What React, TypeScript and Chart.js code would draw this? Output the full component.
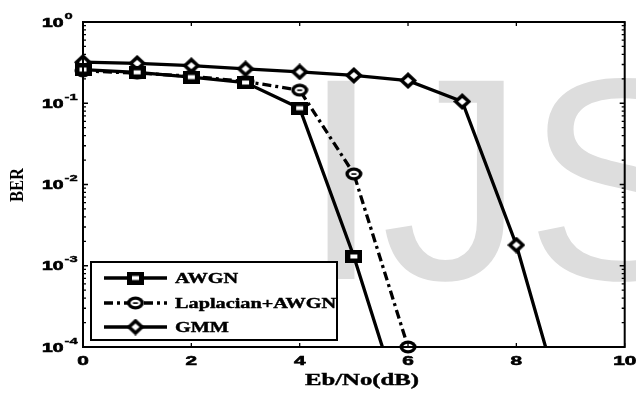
import React, { useEffect, useRef } from 'react';
import { Chart, registerables } from 'chart.js';

Chart.register(...registerables);

// ---- data ----
const ebnoAwgn = [0, 1, 2, 3, 4, 5, 6];
const berAwgn = [0.26, 0.24, 0.21, 0.18, 0.087, 0.0013, 0.00001];
const ebnoLap = [0, 1, 2, 3, 4, 5, 6];
const berLap = [0.25, 0.235, 0.215, 0.185, 0.145, 0.0135, 0.0001];
const ebnoGmm = [0, 1, 2, 3, 4, 5, 6, 7, 8, 9];
const berGmm = [0.32, 0.31, 0.29, 0.265, 0.243, 0.22, 0.19, 0.105, 0.0018, 0.0000085];

const seriesNames = ['AWGN', 'Laplacian+AWGN', 'GMM'];
const xTickValues = [0, 2, 4, 6, 8, 10];
const yDecadeExponents = [0, -1, -2, -3, -4];
const xTitle = 'Eb/No(dB)';
const yTitle = 'BER';
const watermarkText = 'IJS';

const SANS = '"Liberation Sans", Arial, sans-serif';
const SERIF = '"Liberation Serif", "Times New Roman", serif';

function makeMarker(kind: string): HTMLCanvasElement {
  const c = document.createElement('canvas');
  const ctx = c.getContext('2d')!;
  if (kind === 'square') {
    c.width = 17; c.height = 13;
    ctx.fillStyle = '#000';
    ctx.fillRect(0, 0, 17, 13);
    ctx.fillStyle = '#fff';
    ctx.fillRect(5, 4.5, 7, 4);
  } else if (kind === 'circle') {
    c.width = 18; c.height = 14;
    ctx.fillStyle = '#000';
    ctx.beginPath();
    ctx.ellipse(9, 7, 8.5, 6.5, 0, 0, Math.PI * 2);
    ctx.fill();
    ctx.fillStyle = '#fff';
    ctx.beginPath();
    ctx.ellipse(9, 7, 5, 3.2, 0, 0, Math.PI * 2);
    ctx.fill();
    ctx.fillStyle = '#000';
    ctx.fillRect(6.5, 6.3, 5, 1.6);
  } else {
    c.width = 18; c.height = 17;
    ctx.fillStyle = '#000';
    ctx.beginPath();
    ctx.moveTo(9, 0); ctx.lineTo(18, 8.5); ctx.lineTo(9, 17); ctx.lineTo(0, 8.5);
    ctx.closePath();
    ctx.fill();
    ctx.fillStyle = '#fff';
    ctx.beginPath();
    ctx.moveTo(9, 5); ctx.lineTo(13, 8.5); ctx.lineTo(9, 12); ctx.lineTo(5, 8.5);
    ctx.closePath();
    ctx.fill();
  }
  return c;
}

function stretchText(ctx: CanvasRenderingContext2D, text: string, x: number, y: number, font: string, sx: number, align: string, heavy = 0) {
  ctx.save();
  ctx.font = font;
  ctx.textAlign = 'left';
  ctx.textBaseline = 'alphabetic';
  const w = ctx.measureText(text).width * sx;
  const left = align === 'center' ? x - w / 2 : align === 'right' ? x - w : x;
  ctx.translate(left, y);
  ctx.scale(sx, 1);
  ctx.fillText(text, 0, 0);
  if (heavy > 0) {
    ctx.lineWidth = heavy;
    ctx.strokeStyle = '#000';
    ctx.strokeText(text, 0, 0);
  }
  ctx.restore();
  return w;
}

export default function App() {
  const ref = useRef<HTMLCanvasElement | null>(null);

  useEffect(() => {
    document.body.style.margin = '0';
    const markers = [makeMarker('square'), makeMarker('circle'), makeMarker('diamond')];
    const dashes = [[], [9, 4, 3, 4], []];

    const plugin = {
      id: 'matlabFrame',
      beforeDraw(chart: any) {
        const ctx = chart.ctx as CanvasRenderingContext2D;
        ctx.save();
        ctx.fillStyle = '#fff';
        ctx.fillRect(0, 0, chart.width, chart.height);
        ctx.fillStyle = '#dddddd';
        ctx.font = `288px ${SANS}`;
        ctx.textAlign = 'left';
        ctx.textBaseline = 'alphabetic';
        ctx.fillText(watermarkText, 301, 279);
        ctx.restore();
      },
      afterDatasetsDraw(chart: any) {
        const ctx = chart.ctx as CanvasRenderingContext2D;
        const xs = chart.scales.x;
        const ys = chart.scales.y;
        const a = chart.chartArea;
        ctx.save();
        ctx.strokeStyle = '#000';
        ctx.fillStyle = '#000';
        // frame
        ctx.lineWidth = 2;
        ctx.strokeRect(a.left, a.top, a.right - a.left, a.bottom - a.top);
        // x ticks
        ctx.lineWidth = 1.3;
        ctx.beginPath();
        for (const v of xTickValues) {
          const px = xs.getPixelForValue(v);
          ctx.moveTo(px, a.bottom); ctx.lineTo(px, a.bottom - 4);
          ctx.moveTo(px, a.top); ctx.lineTo(px, a.top + 4);
        }
        // y ticks (major + minor)
        for (const e of yDecadeExponents) {
          const py = ys.getPixelForValue(Math.pow(10, e));
          ctx.moveTo(a.left, py); ctx.lineTo(a.left + 5, py);
          ctx.moveTo(a.right, py); ctx.lineTo(a.right - 5, py);
          if (e < 0) {
            for (let m = 2; m <= 9; m++) {
              const pm = ys.getPixelForValue(m * Math.pow(10, e));
              ctx.moveTo(a.left, pm); ctx.lineTo(a.left + 3, pm);
              ctx.moveTo(a.right, pm); ctx.lineTo(a.right - 3, pm);
            }
          }
        }
        ctx.stroke();
        // x tick labels
        for (const v of xTickValues) {
          const px = xs.getPixelForValue(v);
          stretchText(ctx, String(v), px, a.bottom + 18, `bold 13px ${SANS}`, 1.6, 'center', 0.6);
        }
        // y tick labels 10^e
        for (const e of yDecadeExponents) {
          const py = ys.getPixelForValue(Math.pow(10, e));
          const w = stretchText(ctx, '10', 42, py + 4.5, `bold 12.5px ${SANS}`, 1.55, 'left', 0.6);
          stretchText(ctx, String(e), 42 + w + 1, py - 3.5, `bold 9.5px ${SANS}`, 1.55, 'left', 0.4);
        }
        // axis titles
        stretchText(ctx, xTitle, 362, 385, `bold 16.5px ${SERIF}`, 1.5, 'center', 0.4);
        ctx.save();
        ctx.translate(16.5, 185);
        ctx.rotate(-Math.PI / 2);
        ctx.scale(1, 1.2);
        ctx.font = `bold 16.5px ${SERIF}`;
        ctx.textAlign = 'center';
        ctx.textBaseline = 'alphabetic';
        ctx.fillText(yTitle, 0, 5.5);
        ctx.restore();
        // legend
        const lx = 91, ly = 262, lw = 246, lh = 78;
        ctx.fillStyle = '#fff';
        ctx.fillRect(lx, ly, lw, lh);
        ctx.lineWidth = 2;
        ctx.strokeStyle = '#000';
        ctx.strokeRect(lx, ly, lw, lh);
        const rows = [278, 303, 327];
        seriesNames.forEach((name, i) => {
          const y = rows[i];
          ctx.save();
          ctx.lineWidth = 3.3;
          ctx.setLineDash(dashes[i]);
          ctx.beginPath();
          ctx.moveTo(104, y); ctx.lineTo(167, y);
          ctx.stroke();
          ctx.restore();
          const mk = markers[i];
          ctx.drawImage(mk, 135.5 - mk.width / 2, y - mk.height / 2);
          ctx.fillStyle = '#000';
          stretchText(ctx, name, 175, y + 5, `bold 15px ${SERIF}`, 1.35, 'left', 0.4);
        });
        ctx.restore();
      },
    };

    const toPts = (xs: number[], ys: number[]) => xs.map((x, i) => ({ x, y: ys[i] }));
    const common = {
      borderColor: '#000',
      backgroundColor: '#000',
      borderWidth: 3.3,
      pointRadius: 8,
      tension: 0,
      fill: false,
    };

    const chart = new Chart(ref.current!, {
      type: 'line',
      data: {
        datasets: [
          { ...common, label: seriesNames[0], data: toPts(ebnoAwgn, berAwgn), pointStyle: markers[0] as any, clip: { left: 12, top: 12, right: 12, bottom: 0 } as any },
          { ...common, label: seriesNames[1], data: toPts(ebnoLap, berLap), pointStyle: markers[1] as any, borderDash: dashes[1], clip: { left: 12, top: 12, right: 12, bottom: 12 } as any },
          { ...common, label: seriesNames[2], data: toPts(ebnoGmm, berGmm), pointStyle: markers[2] as any, clip: { left: 12, top: 12, right: 12, bottom: 0 } as any },
        ],
      },
      options: {
        animation: false,
        responsive: true,
        maintainAspectRatio: false,
        layout: { padding: { left: 83, top: 22, right: 10, bottom: 46 } },
        scales: {
          x: { type: 'linear', min: 0, max: 10, display: false },
          y: { type: 'logarithmic', min: 0.0001, max: 1, display: false },
        },
        plugins: { legend: { display: false }, tooltip: { enabled: false } },
      },
      plugins: [plugin],
    });
    return () => chart.destroy();
  }, []);

  return (
    <div style={{ width: 636, height: 393, position: 'relative' }}>
      <canvas ref={ref} />
    </div>
  );
}
